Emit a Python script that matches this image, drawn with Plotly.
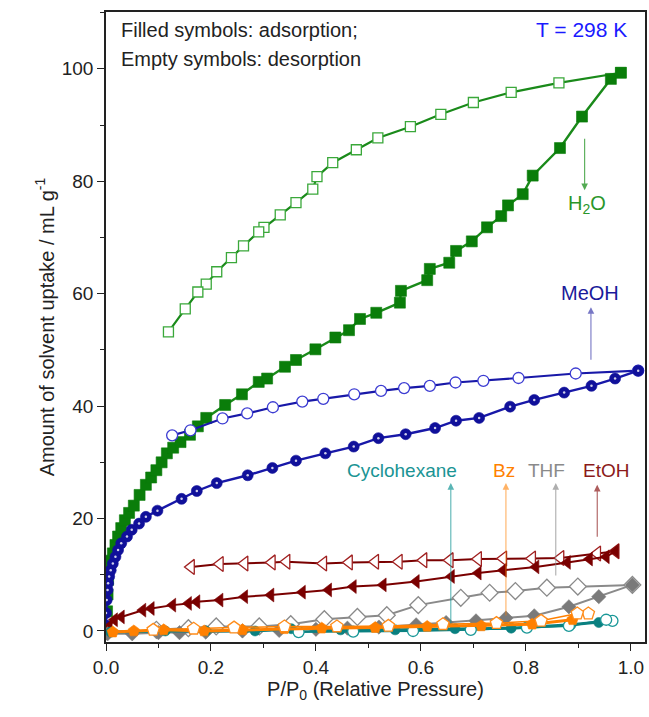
import plotly.graph_objects as go

# ---------------- data ----------------
h2o_ads_x = [0.002, 0.003, 0.004, 0.006, 0.009, 0.013, 0.018, 0.023, 0.029, 0.036, 0.044, 0.053,
             0.064, 0.076, 0.086, 0.096, 0.106, 0.116, 0.128, 0.142, 0.160, 0.175, 0.191, 0.227,
             0.259, 0.291, 0.307, 0.341, 0.362, 0.399, 0.437, 0.463, 0.484, 0.515, 0.560, 0.562,
             0.612, 0.617, 0.654, 0.667, 0.697, 0.726, 0.753, 0.766, 0.794, 0.813, 0.865, 0.907,
             0.962, 0.981]
h2o_ads_y = [3.5, 6.5, 9.1, 11.4, 12.5, 13.8, 15.3, 16.8, 18.3, 19.7, 21.0, 22.3,
             24.2, 26.0, 27.3, 28.6, 30.0, 31.6, 32.6, 33.6, 34.9, 36.4, 37.9, 40.2,
             42.1, 44.3, 44.9, 47.0, 48.2, 50.1, 52.2, 53.5, 55.5, 56.6, 58.4, 60.5,
             62.4, 64.4, 65.5, 67.6, 69.3, 71.8, 73.8, 75.7, 77.7, 81.0, 85.9, 91.5,
             98.2, 99.3]
h2o_des_x = [0.981, 0.863, 0.772, 0.700, 0.638, 0.580, 0.518, 0.477, 0.432, 0.402, 0.394, 0.362,
             0.332, 0.301, 0.291, 0.262, 0.239, 0.211, 0.191, 0.175, 0.151, 0.119]
h2o_des_y = [99.3, 97.5, 95.8, 94.0, 91.9, 89.7, 87.7, 85.6, 83.3, 80.8, 78.6, 76.2,
             74.0, 71.8, 71.0, 68.5, 66.4, 63.9, 61.7, 60.3, 57.3, 53.2]

meoh_ads_x = [0.0, 0.0, 0.0013, 0.003, 0.004, 0.006, 0.009, 0.013, 0.018, 0.023, 0.029, 0.040,
              0.049, 0.063, 0.076, 0.098, 0.144, 0.173, 0.211, 0.270, 0.317, 0.362, 0.418, 0.472,
              0.519, 0.571, 0.627, 0.667, 0.711, 0.770, 0.816, 0.873, 0.925, 0.970, 1.014]
meoh_ads_y = [1.0, 3.2, 5.5, 7.3, 8.5, 9.7, 10.8, 12.0, 13.2, 14.4, 15.6, 16.8,
              18.0, 19.1, 20.3, 21.4, 23.5, 24.9, 26.3, 27.7, 29.0, 30.3, 31.6, 32.8,
              34.3, 35.0, 36.1, 37.4, 37.9, 39.9, 41.1, 42.4, 43.6, 44.9, 46.3]
meoh_des_x = [1.014, 0.895, 0.786, 0.719, 0.666, 0.617, 0.568, 0.524, 0.473, 0.414, 0.374, 0.318,
              0.269, 0.222, 0.161, 0.126]
meoh_des_y = [46.3, 45.8, 45.0, 44.5, 44.2, 43.6, 43.2, 42.7, 42.1, 41.3, 40.8, 39.8,
              38.7, 37.8, 35.7, 34.8]

etoh_ads_x = [0.006, 0.016, 0.029, 0.070, 0.086, 0.127, 0.157, 0.173, 0.217, 0.264, 0.314, 0.374,
              0.424, 0.471, 0.528, 0.591, 0.658, 0.709, 0.757, 0.819, 0.879, 0.921, 0.953, 0.971]
etoh_ads_y = [0.8, 2.0, 2.5, 3.7, 4.0, 4.6, 4.9, 5.2, 5.5, 6.1, 6.4, 6.9,
              7.3, 7.9, 8.2, 8.8, 9.7, 10.3, 10.8, 11.4, 12.2, 12.8, 13.2, 14.2]
etoh_des_x = [0.971, 0.936, 0.866, 0.812, 0.757, 0.709, 0.655, 0.605, 0.558, 0.513, 0.463, 0.414,
              0.344, 0.316, 0.264, 0.217, 0.162]
etoh_des_y = [14.2, 13.8, 13.0, 12.9, 12.9, 12.8, 12.6, 12.6, 12.3, 12.3, 12.2, 12.0,
              12.3, 12.2, 12.0, 11.9, 11.4]

thf_ads_x = [0.003, 0.05, 0.10, 0.14, 0.19, 0.26, 0.33, 0.40, 0.46, 0.52, 0.591, 0.648,
             0.705, 0.762, 0.816, 0.882, 0.939, 1.003]
thf_ads_y = [-0.5, -0.5, -0.3, -0.3, -0.2, 0.0, 0.1, 0.3, 0.5, 0.7, 1.1, 1.5,
             1.8, 2.3, 2.7, 4.3, 6.1, 8.2]
thf_des_x = [1.003, 0.899, 0.840, 0.780, 0.731, 0.676, 0.595, 0.535, 0.479, 0.416, 0.352, 0.292,
             0.210, 0.157, 0.096]
thf_des_y = [8.2, 7.9, 7.7, 7.1, 6.8, 5.9, 4.6, 2.8, 2.5, 2.1, 1.2, 0.8,
             0.8, 0.5, 0.2]

bz_ads_x = [0.013, 0.053, 0.110, 0.187, 0.260, 0.340, 0.411, 0.513, 0.612, 0.715, 0.812, 0.889]
bz_ads_y = [-0.2, 0.0, 0.2, 0.0, 0.2, 0.4, 0.5, 0.6, 0.8, 0.9, 1.2, 2.0]
bz_des_x = [0.919, 0.898, 0.829, 0.744, 0.642, 0.538, 0.440, 0.340, 0.244, 0.167, 0.090]
bz_des_y = [3.1, 3.1, 1.8, 1.4, 1.2, 0.9, 0.8, 0.8, 0.6, 0.4, 0.2]

cy_ads_x = [0.009, 0.113, 0.190, 0.284, 0.353, 0.447, 0.551, 0.665, 0.772, 0.886, 0.939, 0.965]
cy_ads_y = [-0.2, 0.0, 0.0, 0.0, 0.4, 0.2, 0.2, 0.4, 0.5, 1.1, 1.5, 1.8]
cy_des_x = [0.965, 0.953, 0.882, 0.802, 0.695, 0.585, 0.471, 0.367]
cy_des_y = [1.8, 2.0, 0.9, 0.6, 0.2, 0.0, -0.1, -0.2]

x_ticks = [0.0, 0.2, 0.4, 0.6, 0.8, 1.0]
x_ticklabels = ["0.0", "0.2", "0.4", "0.6", "0.8", "1.0"]
y_ticks = [0, 20, 40, 60, 80, 100]
y_ticklabels = ["0", "20", "40", "60", "80", "100"]

FONT = "Liberation Sans, Arial, sans-serif"

fig = go.Figure()


def add(x, y, line_color, marker_color, symbol, size, filled, lw=2, outline=None):
    fig.add_trace(go.Scatter(
        x=x, y=y, mode="lines+markers",
        line=dict(color=line_color, width=lw),
        marker=dict(symbol=symbol, size=size,
                    color=marker_color if filled else "white",
                    line=dict(color=outline or marker_color, width=1.3 if not filled else 0.6)),
        showlegend=False, hoverinfo="skip"))


# H2O
add(h2o_des_x, h2o_des_y, "#1a8a1a", "#3aa83a", "square", 10, False, lw=2.2)
add(h2o_ads_x, h2o_ads_y, "#1a8a1a", "#0a7d0a", "square", 11, True, lw=2.4)
# MeOH
add(meoh_des_x, meoh_des_y, "#1818a8", "#3c3cd2", "circle", 11, False, lw=2.2)
add(meoh_ads_x, meoh_ads_y, "#1818a8", "#10109a", "circle", 11, True, lw=2.4)
fig.add_trace(go.Scatter(x=meoh_ads_x, y=meoh_ads_y, mode="markers",
                         marker=dict(symbol="circle", size=2.5, color="rgba(255,255,255,0.8)"),
                         showlegend=False, hoverinfo="skip"))
# EtOH
add(etoh_des_x, etoh_des_y, "#7a0000", "#a02020", "triangle-left", 13, False, lw=2)
add(etoh_ads_x, etoh_ads_y, "#7a0000", "#7a0000", "triangle-left", 12, True, lw=2)
# THF
add(thf_des_x, thf_des_y, "#8a8a8a", "#8a8a8a", "diamond", 13, False, lw=2)
add(thf_ads_x, thf_ads_y, "#8a8a8a", "#7a7a7a", "diamond", 11, True, lw=2)
# Cyclohexane
add(cy_ads_x, cy_ads_y, "#0a8080", "#0a8080", "circle", 10, True, lw=3)
add(cy_des_x, cy_des_y, "#0a8080", "#1a9898", "circle", 11, False, lw=2)
# Bz
add(bz_ads_x, bz_ads_y, "#ff8000", "#ff8000", "pentagon", 12, True, lw=3)
add(bz_des_x, bz_des_y, "#ff8000", "#ff8c1a", "pentagon", 13, False, lw=1.5)

annotations = [
    dict(x=0.024, y=106.9, text="Filled symbols: adsorption;", xanchor="left", yanchor="middle",
         font=dict(size=20, color="#222222")),
    dict(x=0.024, y=101.7, text="Empty symbols: desorption", xanchor="left", yanchor="middle",
         font=dict(size=20, color="#222222")),
    dict(x=0.997, y=106.9, text="T = 298 K", xanchor="right", yanchor="middle",
         font=dict(size=21, color="#1a1aff")),
    dict(x=0.916, y=75.8, text="H<sub>2</sub>O", xanchor="center", yanchor="middle",
         font=dict(size=20, color="#2a962a")),
    dict(x=0.922, y=60.1, text="MeOH", xanchor="center", yanchor="middle",
         font=dict(size=20, color="#1a1a9a")),
    dict(x=0.564, y=28.6, text="Cyclohexane", xanchor="center", yanchor="middle",
         font=dict(size=19, color="#1a9494")),
    dict(x=0.758, y=28.6, text="Bz", xanchor="center", yanchor="middle",
         font=dict(size=19, color="#ff8000")),
    dict(x=0.840, y=28.6, text="THF", xanchor="center", yanchor="middle",
         font=dict(size=19, color="#8a8a8a")),
    dict(x=0.952, y=28.6, text="EtOH", xanchor="center", yanchor="middle",
         font=dict(size=19, color="#8b1a1a")),
]
for a in annotations:
    a.update(xref="x", yref="y", showarrow=False, font_family=FONT)

arrows = [
    (0.912, 87.8, 78.4, "rgba(40,150,40,0.8)"),
    (0.924, 48.0, 57.6, "rgba(30,30,160,0.6)"),
    (0.657, 1.1, 26.3, "rgba(20,150,150,0.7)"),
    (0.762, 2.5, 26.3, "rgba(255,128,0,0.6)"),
    (0.857, 9.6, 26.3, "rgba(140,140,140,0.7)"),
    (0.936, 16.5, 26.0, "rgba(139,26,26,0.7)"),
]
for ax_, y0, y1, col in arrows:
    annotations.append(dict(x=ax_, y=y1, ax=ax_, ay=y0, xref="x", yref="y", axref="x", ayref="y",
                            showarrow=True, arrowhead=2, arrowsize=1.2, arrowwidth=1.1,
                            arrowcolor=col, text=""))

fig.update_layout(
    width=649, height=717,
    margin=dict(l=106, r=4, t=12, b=75, autoexpand=False),
    paper_bgcolor="white", plot_bgcolor="white",
    font=dict(family=FONT, size=19, color="#222222"),
    annotations=annotations,
    xaxis=dict(range=[0, 1.027], tickvals=x_ticks, ticktext=x_ticklabels, automargin=False,
               ticks="outside", ticklen=7, tickwidth=1.3, tickcolor="#222",
               minor=dict(dtick=0.1, ticks="outside", ticklen=4, tickwidth=1.2, tickcolor="#222"),
               showline=True, linecolor="#222", linewidth=1.5, mirror=True,
               showgrid=False, zeroline=False, tickfont=dict(size=19),
               title=dict(text="P/P<sub>0</sub> (Relative Pressure)", font=dict(size=20), standoff=4)),
    yaxis=dict(range=[-1.96, 110.1], tickvals=y_ticks, ticktext=y_ticklabels, automargin=False,
               ticks="outside", ticklen=7, tickwidth=1.3, tickcolor="#222",
               minor=dict(dtick=10, ticks="outside", ticklen=4, tickwidth=1.2, tickcolor="#222"),
               showline=True, linecolor="#222", linewidth=1.5, mirror=True,
               showgrid=False, zeroline=False, tickfont=dict(size=19),
               title=dict(text="Amount of solvent uptake / mL g<sup>-1</sup>", font=dict(size=20), standoff=2)),
)

fig.write_html("out.html", config={"displayModeBar": False},
               post_script="document.body.style.margin='0';document.body.style.padding='0';")
